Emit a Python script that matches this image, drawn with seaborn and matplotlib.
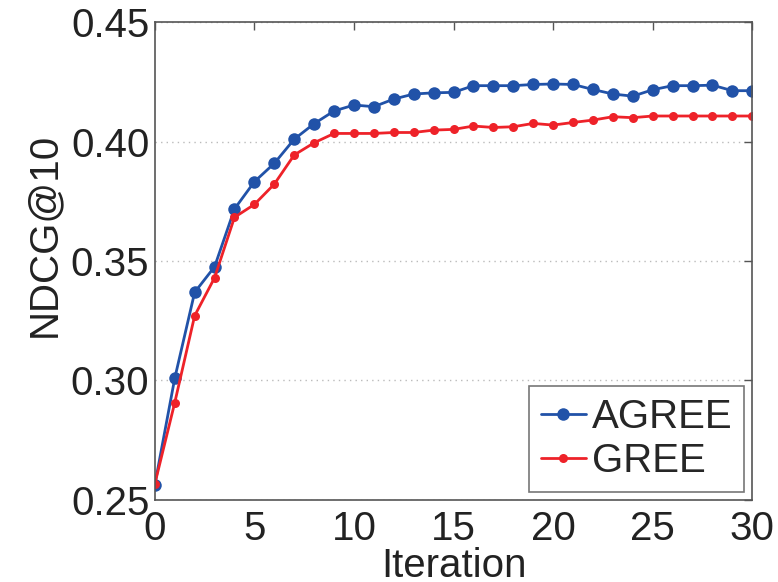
import seaborn as sns
import matplotlib.pyplot as plt
import pandas as pd

iterations = list(range(31))

agree = [0.2563, 0.3009, 0.3369, 0.3476, 0.3718, 0.3832, 0.3909, 0.4010, 0.4075, 0.4128,
         0.4153, 0.4146, 0.4178, 0.4199, 0.4204, 0.4206, 0.4234, 0.4234, 0.4234, 0.4239,
         0.4241, 0.4239, 0.4218, 0.4199, 0.4190, 0.4217, 0.4234, 0.4234, 0.4236, 0.4213,
         0.4213]

gree = [0.2567, 0.2907, 0.3271, 0.3430, 0.3683, 0.3737, 0.3822, 0.3944, 0.3995, 0.4034,
        0.4034, 0.4034, 0.4038, 0.4038, 0.4048, 0.4051, 0.4065, 0.4059, 0.4062, 0.4076,
        0.4069, 0.4080, 0.4090, 0.4104, 0.4100, 0.4107, 0.4107, 0.4107, 0.4107, 0.4107,
        0.4107]

sns.set_style("white")
plt.rcParams["font.family"] = ["Liberation Sans", "DejaVu Sans"]
FS = 29

fig = plt.figure(figsize=(7.78, 5.82), dpi=100)
ax = fig.add_axes([0.199, 0.141, 0.768, 0.821])

df_agree = pd.DataFrame({"iteration": iterations, "ndcg": agree})
df_gree = pd.DataFrame({"iteration": iterations, "ndcg": gree})

sns.lineplot(data=df_agree, x="iteration", y="ndcg", ax=ax, color="#2152a8",
             marker="o", markersize=9, markeredgewidth=0, linewidth=2, label="AGREE")
sns.lineplot(data=df_gree, x="iteration", y="ndcg", ax=ax, color="#ee2229",
             marker="o", markersize=6.5, markeredgewidth=0, linewidth=2, label="GREE")

ax.set_xlim(0, 30)
ax.set_ylim(0.25, 0.45)
ax.set_xticks([0, 5, 10, 15, 20, 25, 30])
ax.set_yticks([0.25, 0.30, 0.35, 0.40, 0.45])
ax.set_yticklabels(["0.25", "0.30", "0.35", "0.40", "0.45"])
ax.yaxis.grid(True, linestyle=(0, (1, 3)), color="#bbbbbb", linewidth=1)
ax.tick_params(direction="in", length=6, width=1, color="#555555",
               top=True, right=True, labelsize=FS, pad=4, labelcolor="#222222")
ax.tick_params(axis="x", pad=7)
for s in ax.spines.values():
    s.set_color("#555555")
    s.set_linewidth(1.2)

ax.set_xlabel("Iteration", fontsize=FS, color="#222222")
ax.set_ylabel("NDCG@10", fontsize=FS, color="#222222")
ax.xaxis.set_label_coords(0.5, -0.098)
ax.yaxis.set_label_coords(-0.153, 0.554)

leg = ax.legend(loc="lower right", fontsize=FS, frameon=True, fancybox=False,
                edgecolor="#555555", handlelength=1.1, handletextpad=0.15,
                borderpad=0.3, labelspacing=0.15, borderaxespad=0.2)
leg.get_frame().set_linewidth(1.2)

fig.savefig("out.png", dpi=100)
